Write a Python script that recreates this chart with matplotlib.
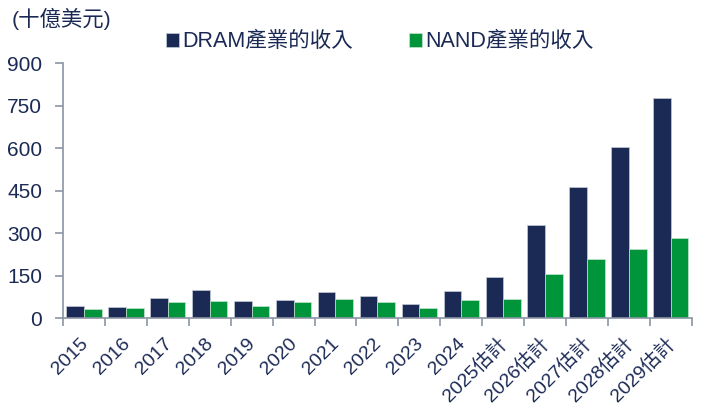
import matplotlib
matplotlib.use("Agg")
import matplotlib.pyplot as plt
import matplotlib.transforms as mtransforms
import numpy as np
from matplotlib.ticker import FixedLocator

plt.rcParams['font.family'] = ['Liberation Sans', 'Noto Sans CJK TC', 'DejaVu Sans']

categories = ["2015", "2016", "2017", "2018", "2019", "2020", "2021", "2022", "2023", "2024",
              "2025估計", "2026估計", "2027估計", "2028估計", "2029估計"]
dram = [44, 39, 71, 99, 62, 66, 93, 79, 50, 96, 146, 331, 462, 603, 776]
nand = [33, 38, 57, 62, 44, 57, 68, 58, 36, 65, 69, 156, 210, 244, 283]
yticks = [0, 150, 300, 450, 600, 750, 900]

navy = "#1b2a55"
green = "#00953a"
txt = "#1b2a55"
spine = "#8a95a3"

fig = plt.figure(figsize=(7.01, 4.19), dpi=100)
ax = fig.add_axes([0.0899, 0.2399, 0.897, 0.6097])

x = np.arange(len(categories))
w = 0.42
ax.bar(x - w/2, dram, width=w, color=navy, edgecolor="#c5cbd6", linewidth=0.5, label="DRAM產業的收入")
ax.bar(x + w/2, nand, width=w, color=green, edgecolor="#c5e3cf", linewidth=0.5, label="NAND產業的收入")

ax.set_xlim(-0.5, len(categories) - 0.5)
ax.set_ylim(0, 900)
ax.set_yticks(yticks)
ax.set_yticklabels([str(v) for v in yticks], fontsize=15, color=txt)
ax.set_xticks(x)
ax.set_xticklabels(categories, rotation=45, ha='right', va='baseline', rotation_mode='anchor',
                   fontsize=14, color=txt)
ax.tick_params(axis='x', length=0, pad=18.5)
offset = mtransforms.ScaledTranslation(4.5/100, 0, fig.dpi_scale_trans)
for lab in ax.get_xticklabels():
    lab.set_transform(lab.get_transform() + offset)
ax.xaxis.set_minor_locator(FixedLocator(np.arange(-0.5, len(categories), 1.0)))
ax.tick_params(axis='x', which='minor', length=6, width=1.2, color=spine, direction='out')
ax.tick_params(axis='y', length=6, width=1.2, color=spine, direction='out', pad=9)

for s in ['top', 'right']:
    ax.spines[s].set_visible(False)
for s in ['left', 'bottom']:
    ax.spines[s].set_color(spine)
    ax.spines[s].set_linewidth(1.2)

fig.text(0.017, 0.956, "(十億美元)", fontsize=15.4, color=txt, va='center', ha='left')

leg = fig.legend(loc='center', bbox_to_anchor=(0.542, 0.9), ncol=2, frameon=False,
                 fontsize=15.5, handlelength=0.6, handleheight=0.6, handletextpad=0.15,
                 columnspacing=2.6)
for t in leg.get_texts():
    t.set_color(txt)

fig.savefig("out.png", dpi=100)
